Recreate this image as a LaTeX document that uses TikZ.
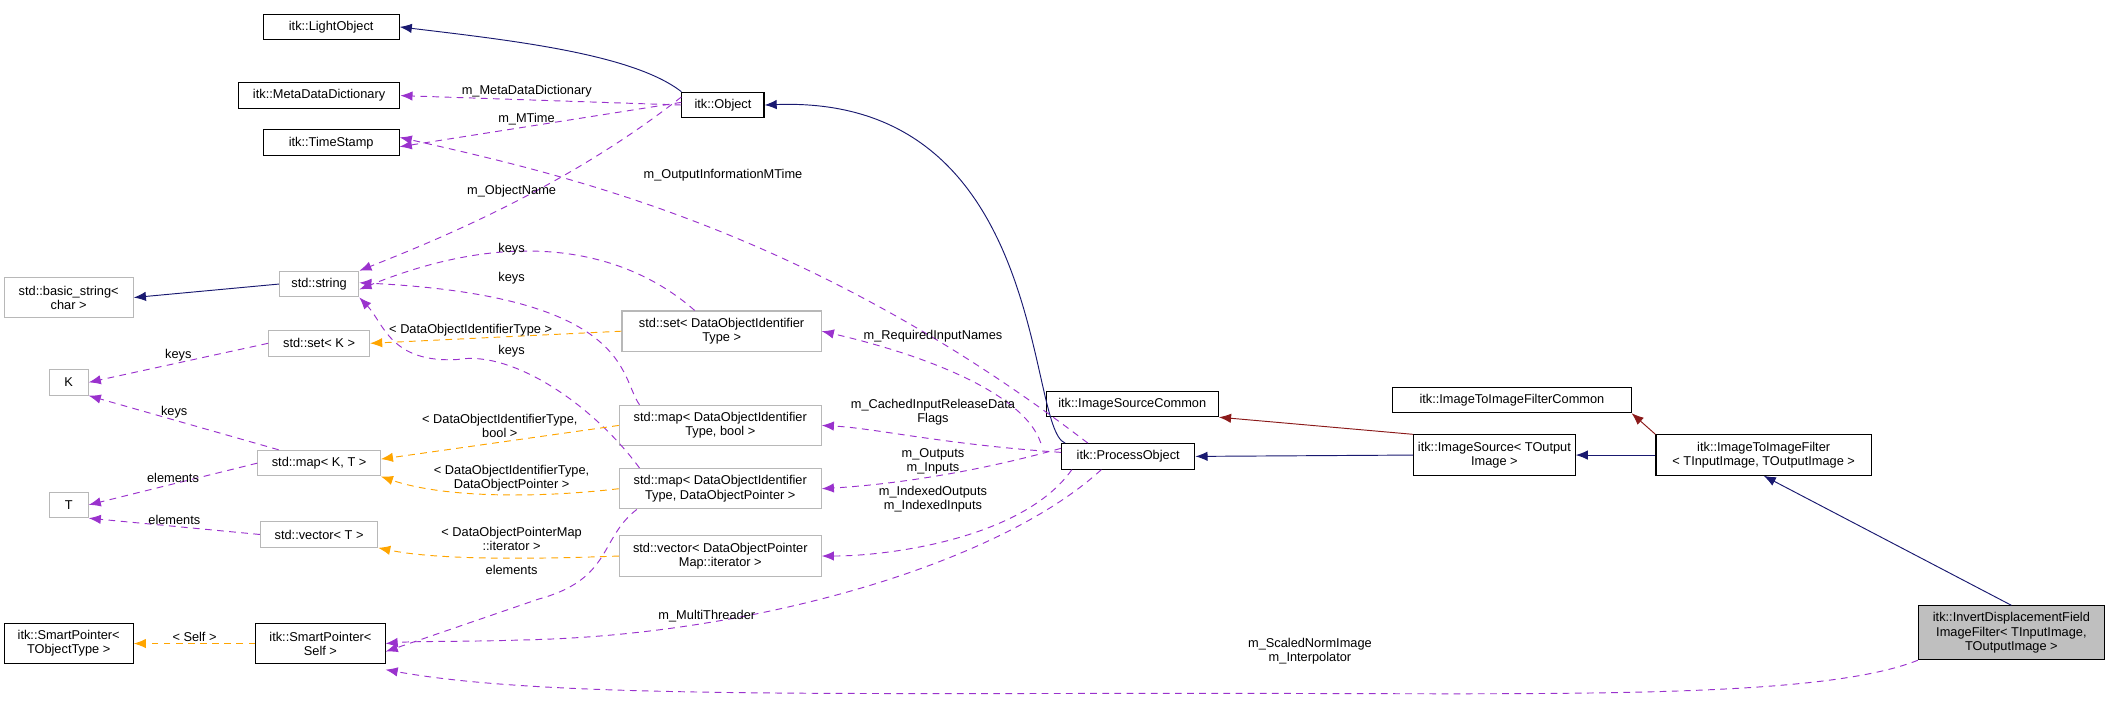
\documentclass[tikz,border=0pt]{standalone}
\usepackage{fontspec}
\setmainfont{Liberation Sans}
\usetikzlibrary{arrows.meta}
\begin{document}
\begin{tikzpicture}[x=1pt,y=-1pt,
  every node/.style={font=\fontsize{9.5}{10.5}\selectfont},
  box/.style={draw=black,line width=0.8pt,fill=white,inner sep=0pt,minimum height=19pt,align=center},
  gbox/.style={draw=black!28,line width=0.8pt,fill=white,inner sep=0pt,minimum height=19pt,align=center},
  lbl/.style={align=center,inner sep=1pt,font=\fontsize{9.5}{10.5}\selectfont},
  inh/.style={draw={rgb,255:red,25;green,25;blue,112},line width=0.7pt,-{Latex[length=9pt,width=7pt]}},
  inhr/.style={draw={rgb,255:red,139;green,26;blue,26},line width=0.7pt,-{Latex[length=9pt,width=7pt]}},
  use/.style={draw={rgb,255:red,154;green,50;blue,205},line width=0.7pt,dash pattern=on 5pt off 4pt,-{Latex[length=9pt,width=7pt]}},
  tpl/.style={draw={rgb,255:red,255;green,165;blue,0},line width=0.7pt,dash pattern=on 5pt off 4pt,-{Latex[length=9pt,width=7pt]}}]
\useasboundingbox (0,0) rectangle (1568,528);
% nodes
\node[box,minimum width=101pt] (light) at (246,20) {itk::LightObject};
\node[box,minimum width=120pt] (meta) at (237,71) {itk::MetaDataDictionary};
\node[box,minimum width=101pt] (ts) at (246,106) {itk::TimeStamp};
\node[gbox,minimum width=96pt,minimum height=30pt] (bstr) at (51,221) {std::basic\_string<\\char >};
\node[gbox,minimum width=59pt] (str) at (237,211) {std::string};
\node[gbox,minimum width=75pt] (setk) at (237,255) {std::set< K >};
\node[gbox,minimum width=29pt] (K) at (51,284) {K};
\node[gbox,minimum width=91pt] (mapkt) at (237,344) {std::map< K, T >};
\node[gbox,minimum width=29pt] (T) at (51,375) {T};
\node[gbox,minimum width=87pt] (vect) at (237,397) {std::vector< T >};
\node[box,minimum width=96pt,minimum height=30pt] (spt) at (51,478) {itk::SmartPointer<\\TObjectType >};
\node[box,minimum width=96pt,minimum height=30pt] (sps) at (238,478) {itk::SmartPointer<\\Self >};
\node[box,minimum width=61pt] (obj) at (537,78) {itk::Object};
\node[gbox,minimum width=148pt,minimum height=30pt] (setd) at (536,246) {std::set< DataObjectIdentifier\\Type >};
\node[gbox,minimum width=150pt,minimum height=30pt] (mapb) at (535,316) {std::map< DataObjectIdentifier\\Type, bool >};
\node[gbox,minimum width=150pt,minimum height=30pt] (mapp) at (535,363) {std::map< DataObjectIdentifier\\Type, DataObjectPointer >};
\node[gbox,minimum width=150pt,minimum height=30pt] (vecd) at (535,413) {std::vector< DataObjectPointer\\Map::iterator >};
\node[box,minimum width=99pt] (po) at (838,339) {itk::ProcessObject};
\node[box,minimum width=128pt] (isc) at (841,300) {itk::ImageSourceCommon};
\node[box,minimum width=120pt,minimum height=30pt] (is) at (1110,338) {itk::ImageSource< TOutput\\Image >};
\node[box,minimum width=177pt] (itic) at (1123,297) {itk::ImageToImageFilterCommon};
\node[box,minimum width=160pt,minimum height=30pt] (itif) at (1310,338) {itk::ImageToImageFilter\\< TInputImage, TOutputImage >};
\node[box,minimum width=138pt,minimum height=40pt,fill=black!25] (inv) at (1494,470) {itk::InvertDisplacementField\\ImageFilter< TInputImage,\\ TOutputImage >};
% inheritance
\draw[inh] (obj.north west) .. controls (470,40) and (380,30) .. (light.east);
\draw[inh] ([xshift=3pt]po.north west) .. controls (762,318) and (780,70) .. (obj.east);
\draw[inh] (str.west) -- (bstr.east);
\draw[inh] (is.west) -- (po.east);
\draw[inhr] (is.north west) -- (isc.south east);
\draw[inh] (itif.west) -- (is.east);
\draw[inhr] (itif.north west) -- (itic.south east);
\draw[inh] (inv.north) -- (itif.south);
% usage
\draw[use] (obj.west) -- node[lbl,above=1pt,pos=0.55]{m\_MetaDataDictionary} (meta.east);
\draw[use] ([yshift=2pt]obj.west) -- node[lbl,above,pos=0.55]{m\_MTime} ([yshift=-3pt]ts.east);
\draw[use] ([yshift=6pt]obj.west) .. controls (420,140) and (320,180) .. (str.north east);
\node[lbl] (lon) at (380,142) {m\_ObjectName};
\draw[use] ([xshift=-30pt]po.north) .. controls (600,170) and (420,130) .. ([yshift=4pt]ts.east);
\node[lbl] (loim) at (537,130) {m\_OutputInformationMTime};
\draw[use] ([xshift=-20pt]setd.north) .. controls (470,190) and (390,165) .. ([yshift=-4pt]str.east);
\node[lbl] (lk1) at (380,185) {keys};
\draw[use] ([xshift=-60pt]mapb.north) .. controls (460,280) and (470,220) .. ([yshift=1pt]str.east);
\node[lbl] (lk2) at (380,207) {keys};
\draw[use] ([xshift=-60pt]mapp.north) .. controls (440,300) and (380,260) .. (340,267) .. controls (290,270) and (285,240) .. (str.south east);
\node[lbl] (lk3) at (380,261) {keys};
\draw[tpl] (setd.west) -- node[lbl,above,pos=0.6]{< DataObjectIdentifierType >} (setk.east);
\draw[use] (setk.west) -- node[lbl,above]{keys} (K.east);
\draw[use] ([xshift=-30pt]mapkt.north) -- node[lbl,above,pos=0.55]{keys} (K.south east);
\draw[use] (mapkt.west) -- node[lbl,above]{elements} (T.east);
\draw[use] (vect.west) -- node[lbl,above]{elements} (T.south east);
\draw[tpl] (mapb.west) -- node[lbl,above=2pt,pos=0.5]{< DataObjectIdentifierType,\\bool >} ([yshift=3pt]mapkt.east);
\draw[tpl] (mapp.west) .. controls (400,370) and (330,370) .. (mapkt.south east);
\node[lbl] (ltp) at (380,355) {< DataObjectIdentifierType,\\DataObjectPointer >};
\draw[tpl] (vecd.west) .. controls (380,416) and (320,415) .. (vect.south east);
\node[lbl] (ltv) at (380,400) {< DataObjectPointerMap\\::iterator >};
\draw[use] ([xshift=-62pt]mapp.south) .. controls (445,400) and (455,430) .. (400,445) -- ([yshift=-6pt]sps.east);
\node[lbl] (lel) at (380,423) {elements};
\draw[tpl] (sps.west) -- node[lbl,above]{< Self >} (spt.east);
% process object usages
\draw[use] ([xshift=-15pt]po.north west) .. controls (760,290) and (680,262) .. (setd.east);
\node[lbl] (lrin) at (693,250) {m\_RequiredInputNames};
\draw[use] ([yshift=3pt]po.west) .. controls (700,330) and (650,318) .. (mapb.east);
\node[lbl] (lcir) at (693,306) {m\_CachedInputReleaseData\\Flags};
\draw[use] ([yshift=6pt]po.west) .. controls (720,352) and (660,360) .. (mapp.east);
\node[lbl] (lout) at (693,343) {m\_Outputs\\m\_Inputs};
\draw[use] ([xshift=8pt]po.south west) .. controls (760,400) and (660,413) .. (vecd.east);
\node[lbl] (lio) at (693,371) {m\_IndexedOutputs\\m\_IndexedInputs};
\draw[use] ([xshift=-20pt]po.south) .. controls (740,420) and (560,470) .. (400,475) .. controls (340,477) and (310,476) .. (sps.east);
\node[lbl] (lmt) at (525,458) {m\_MultiThreader};
\draw[use] (inv.south west) .. controls (1350,520) and (1150,515) .. (900,515) .. controls (600,515) and (400,518) .. ([yshift=-4pt]sps.south east);
\node[lbl] (lsn) at (973,484) {m\_ScaledNormImage\\m\_Interpolator};
\end{tikzpicture}
\end{document}
